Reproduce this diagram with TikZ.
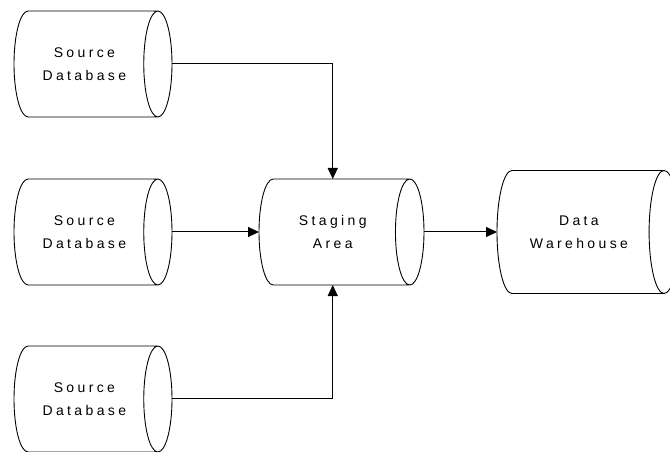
\documentclass[tikz,border=0pt]{standalone}
\usepackage{fontspec}
\setmainfont{Liberation Sans}[LetterSpace=24]
\usepackage{tikz}
\usetikzlibrary{shapes.geometric,arrows.meta}

\tikzset{
  db/.style={cylinder, draw, line width=0.9pt, outer sep=0pt, inner sep=1pt,
    align=center, font=\fontsize{14}{23.4}\selectfont,
    minimum height=158pt, minimum width=106pt, aspect=0.8},
  flow/.style={line width=1pt, -{Triangle[length=11pt,width=10pt]}}
}

\begin{document}
\begin{tikzpicture}[x=1pt, y=1pt]
    % Frame of the picture
    \clip (0,0) rectangle (670,452);
    % Draw the three sources
    \node[db, anchor=bottom] (src1) at (14,388) {Source\\Database};
    \node[db, anchor=bottom] (src2) at (14,220) {Source\\Database};
    \node[db, anchor=bottom] (src3) at (14,53) {Source\\Database};
    % Draw staging area and warehouse
    \node[db, anchor=bottom, minimum height=165pt] (stage) at (259,220) {Staging\\Area};
    \node[db, anchor=bottom, minimum height=182pt, minimum width=123pt, aspect=0.85]
        (dw) at (497,220) {Data\\Warehouse};
    % Draw the loads
    \draw[flow] (src1.top) -| (stage.north);
    \draw[flow] (src2.top) -- (stage.bottom);
    \draw[flow] (src3.top) -| (stage.south);
    \draw[flow] (stage.top) -- (dw.bottom);
\end{tikzpicture}
\end{document}
